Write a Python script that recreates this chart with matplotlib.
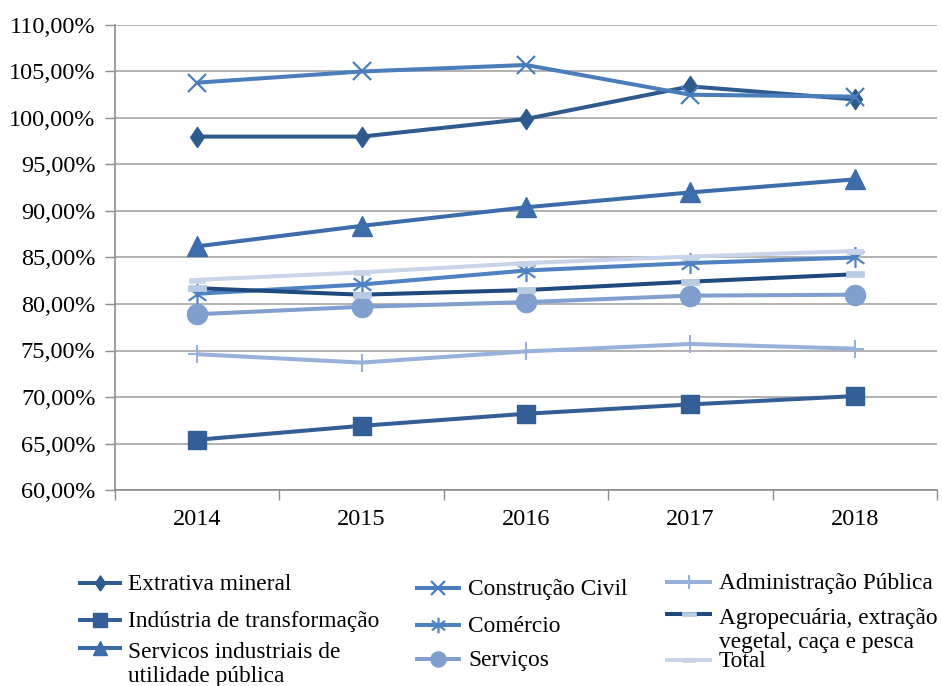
import matplotlib
matplotlib.use("Agg")
import matplotlib.pyplot as plt
from matplotlib.lines import Line2D
from matplotlib.path import Path
import numpy as np

years = ["2014", "2015", "2016", "2017", "2018"]

extrativa = [98.0, 98.0, 99.9, 103.4, 102.0]
industria = [65.4, 66.9, 68.2, 69.2, 70.1]
serv_ind = [86.2, 88.4, 90.4, 92.0, 93.4]
construcao = [103.8, 105.0, 105.7, 102.5, 102.3]
comercio = [81.1, 82.1, 83.6, 84.4, 85.0]
servicos = [78.9, 79.7, 80.2, 80.9, 81.0]
administracao = [74.6, 73.7, 74.9, 75.7, 75.2]
agropecuaria = [81.7, 81.0, 81.5, 82.4, 83.2]
total = [82.6, 83.4, 84.4, 85.1, 85.7]

labels = ["Extrativa mineral", "Indústria de transformação",
          "Servicos industriais de\nutilidade pública",
          "Construção Civil", "Comércio", "Serviços",
          "Administração Pública",
          "Agropecuária, extração\nvegetal, caça e pesca", "Total"]
series = [extrativa, industria, serv_ind, construcao, comercio, servicos,
          administracao, agropecuaria, total]

# marker shapes
diamond = [(0, -1), (0.68, 0), (0, 1), (-0.68, 0), (0, -1)]
asterisk = Path([(0, -1), (0, 1), (-0.85, -0.6), (0.85, 0.6), (-0.85, 0.6), (0.85, -0.6)],
                [Path.MOVETO, Path.LINETO, Path.MOVETO, Path.LINETO, Path.MOVETO, Path.LINETO])
dash = [(-1, -0.3), (1, -0.3), (1, 0.3), (-1, 0.3), (-1, -0.3)]

styles = [
    dict(color="#2E5A8E", marker=diamond, ms=14.5, mfc="#2E5A8E", mec="#2E5A8E", mew=1),
    dict(color="#345F96", marker="s", ms=13.5, mfc="#345F96", mec="#345F96", mew=1),
    dict(color="#3C6DAA", marker="^", ms=14, mfc="#3C6DAA", mec="#3C6DAA", mew=1),
    dict(color="#4A7DBC", marker="x", ms=13, mfc="none", mec="#4A7DBC", mew=1.6),
    dict(color="#4F82C2", marker=asterisk, ms=15, mfc="none", mec="#4F82C2", mew=1.6),
    dict(color="#809FCE", marker="o", ms=14.5, mfc="#809FCE", mec="#809FCE", mew=1),
    dict(color="#97B1DA", marker="+", ms=13, mfc="none", mec="#97B1DA", mew=1.5),
    dict(color="#1F4A7E", marker=dash, ms=13, mfc="#B9CAE3", mec="#B9CAE3", mew=0.5),
    dict(color="#C7D4EA", marker=dash, ms=12, mfc="#C7D4EA", mec="#C7D4EA", mew=0.5),
]

FS = 17.5
LFS = 16.8
LINE_PX = 27

plt.rcParams['font.family'] = ['Liberation Serif', 'DejaVu Serif']
W, H = 942, 686
fig = plt.figure(figsize=(W / 100, H / 100), dpi=100)
ax = fig.add_axes([115 / W, 1 - 490 / H, (937 - 115) / W, (490 - 25) / H])

x = np.arange(len(years))
lines = []
for vals, st in zip(series, styles):
    ln, = ax.plot(x, vals, color=st["color"], lw=2.9, marker=st["marker"],
                  markersize=st["ms"], markerfacecolor=st["mfc"],
                  markeredgecolor=st["mec"], markeredgewidth=st["mew"],
                  solid_capstyle="butt", clip_on=False)
    lines.append(ln)

ax.set_xlim(-0.5, len(years) - 0.5)
ax.set_ylim(60, 110)
ax.set_yticks(np.arange(60, 110.1, 5))
ax.set_yticklabels([f"{v:.2f}".replace(".", ",") + "%" for v in np.arange(60, 110.1, 5)])
ax.set_xticks(np.arange(-0.5, len(years)), minor=False)
ax.set_xticklabels([])
ax.set_xticks(x, minor=True)
ax.set_xticklabels(years, minor=True)
ax.tick_params(axis="x", which="major", length=7, color="#8C8C8C", width=1)
ax.tick_params(axis="x", which="minor", length=0, pad=14, labelsize=FS)
ax.tick_params(axis="y", length=7, color="#8C8C8C", width=1, labelsize=FS, pad=7)
ax.grid(axis="y", color="#A5A5A5", lw=1.2)
ax.set_axisbelow(True)
for s in ["top", "right"]:
    ax.spines[s].set_visible(False)
for s in ["left", "bottom"]:
    ax.spines[s].set_color("#8C8C8C")
    ax.spines[s].set_linewidth(1.2)

# manual legend
leg_cols = [(78, 122, 128), (415, 461, 468), (665, 712, 719)]
leg_rows = [583, 620, 648, 588, 625, 659, 582, 614, 660]
for i, (lab, st) in enumerate(zip(labels, styles)):
    x0, x1, xt = leg_cols[i // 3]
    y = leg_rows[i]
    fy = 1 - y / H
    fig.add_artist(Line2D([x0 / W, x1 / W], [fy, fy], color=st["color"], lw=2.9,
                          solid_capstyle="butt"))
    fig.add_artist(Line2D([(x0 + x1) / 2 / W], [fy], marker=st["marker"],
                          markersize=st["ms"] * 0.75, markerfacecolor=st["mfc"],
                          markeredgecolor=st["mec"], markeredgewidth=st["mew"],
                          linestyle="none"))
    nl = lab.count("\n")
    yb = y + 7 + LINE_PX * nl
    fig.text(xt / W, 1 - yb / H, lab, fontsize=LFS, va="baseline", ha="left",
             linespacing=LINE_PX / (LFS * 100 / 72), color="black")

fig.savefig("out.png", dpi=100)
